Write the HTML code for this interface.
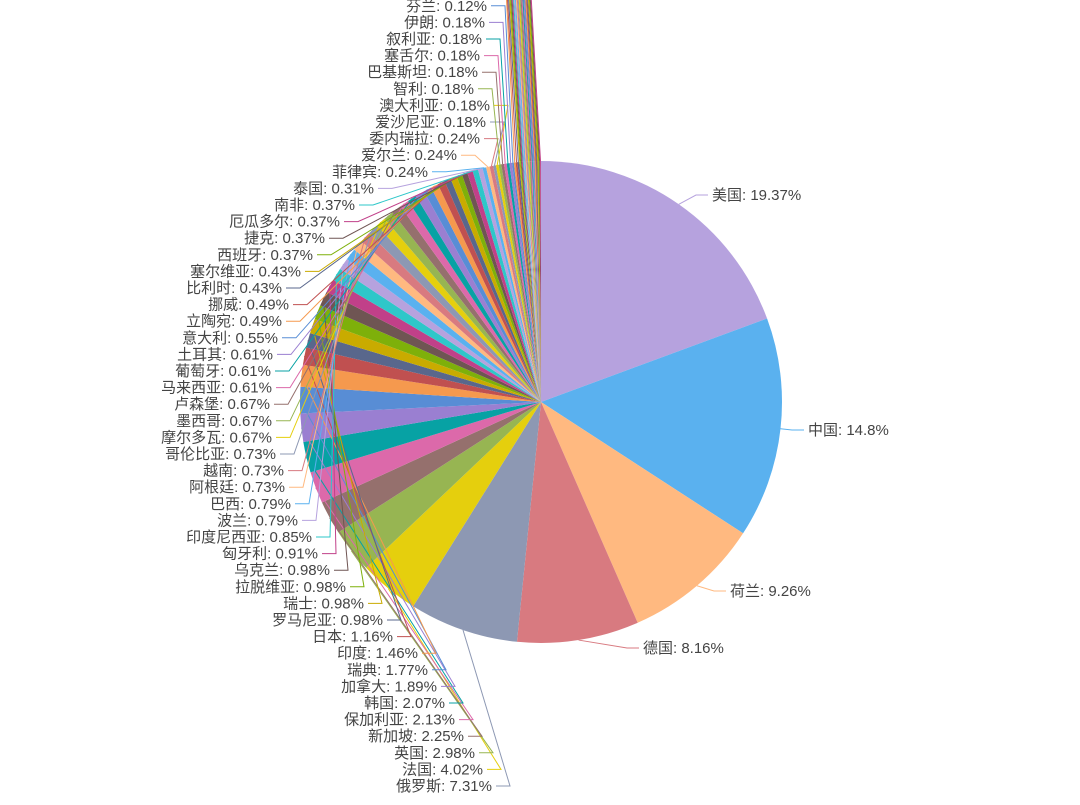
<!DOCTYPE html>
<html><head><meta charset="utf-8"><style>
html,body{margin:0;padding:0;background:#fff;width:1080px;height:805px;overflow:hidden}
svg text{font-family:"Liberation Sans","Noto Sans CJK SC",sans-serif;font-size:15px;fill:#444}
</style></head><body>
<svg id="s" width="1080" height="805" xmlns="http://www.w3.org/2000/svg"></svg>
<script>
var pal=['#2ec7c9','#b6a2de','#5ab1ef','#ffb980','#d87a80','#8d98b3','#e5cf0d','#97b552','#95706d','#dc69aa','#07a2a4','#9a7fd1','#588dd5','#f5994e','#c05050','#59678c','#c9ab00','#7eb00a','#6f5553','#c14089'];
var d=[["美国",19.37],["中国",14.8],["荷兰",9.26],["德国",8.16],["俄罗斯",7.31],["法国",4.02],["英国",2.98],["新加坡",2.25],["保加利亚",2.13],["韩国",2.07],["加拿大",1.89],["瑞典",1.77],["印度",1.46],["日本",1.16],["罗马尼亚",0.98],["瑞士",0.98],["拉脱维亚",0.98],["乌克兰",0.98],["匈牙利",0.91],["印度尼西亚",0.85],["波兰",0.79],["巴西",0.79],["阿根廷",0.73],["越南",0.73],["哥伦比亚",0.73],["摩尔多瓦",0.67],["墨西哥",0.67],["卢森堡",0.67],["马来西亚",0.61],["葡萄牙",0.61],["土耳其",0.61],["意大利",0.55],["立陶宛",0.49],["挪威",0.49],["比利时",0.43],["塞尔维亚",0.43],["西班牙",0.37],["捷克",0.37],["厄瓜多尔",0.37],["南非",0.37],["泰国",0.31],["菲律宾",0.24],["爱尔兰",0.24],["委内瑞拉",0.24],["爱沙尼亚",0.18],["澳大利亚",0.18],["智利",0.18],["巴基斯坦",0.18],["塞舌尔",0.18],["叙利亚",0.18],["伊朗",0.18],["芬兰",0.12]];
var extra=["丹麦","奥地利","希腊","以色列","哈萨克斯坦","白俄罗斯","秘鲁","新西兰","阿联酋","沙特","埃及","冰岛","格鲁吉亚","亚美尼亚","塞浦路斯","马耳他","斯洛伐克","克罗地亚","孟加拉","尼日利亚","肯尼亚","摩洛哥","突尼斯","卡塔尔","科威特","约旦","黎巴嫩"];
extra.forEach(function(n,i){d.push([n,i<3?0.12:0.06]);});
var rights={"美国":[712,195],"中国":[808,430],"荷兰":[730,591],"德国":[643,648]};
var rx=[492,483,475,464,455,445,437,428,418,393,383,364,346,330,318,312,298,291,285,284,276,272,272,270,272,271,273,278,282,289,282,301,313,325,340,355,374,428,457,480,486,490,474,478,480,482,485,487];
var cx=541,cy=402,R=241,tot=0;d.forEach(function(e){tot+=e[1]});
var out='',lab='',a=0;
function pt(ang,r){return [cx+r*Math.sin(ang),cy-r*Math.cos(ang)];}
d.forEach(function(e,i){
 var col=pal[(i+1)%20];var sw=e[1]/tot*2*Math.PI;var a0=a,a1=a+sw;a=a1;
 var p0=pt(a0,R),p1=pt(a1,R);
 out+='<path d="M'+cx+','+cy+'L'+p0[0].toFixed(2)+','+p0[1].toFixed(2)+'A'+R+','+R+' 0 '+(sw>Math.PI?1:0)+' 1 '+p1[0].toFixed(2)+','+p1[1].toFixed(2)+'Z" fill="'+col+'"/>';
 var m=pt((a0+a1)/2,R),t=e[0]+': '+e[1]+'%';
 if(rights[e[0]]){var r=rights[e[0]];
  lab+='<polyline fill="none" stroke="'+col+'" points="'+m[0]+','+m[1]+' '+(r[0]-16)+','+r[1]+' '+(r[0]-4)+','+r[1]+'"/>';
  lab+='<text x="'+r[0]+'" y="'+(r[1]+5)+'">'+t+'</text>';
 } else {var k=i-4,y,x;
  if(k<rx.length){y=786-k*16.6;x=rx[k];}else{y=786-k*16.6;x=488;}
  lab+='<polyline fill="none" stroke="'+col+'" points="'+m[0].toFixed(1)+','+m[1].toFixed(1)+' '+(x+18)+','+y+' '+(x+4)+','+y+'"/>';
  lab+='<text x="'+x+'" y="'+(y+5)+'" text-anchor="end">'+t+'</text>';
 }
});
document.getElementById('s').innerHTML=out+lab;
</script>
</body></html>
